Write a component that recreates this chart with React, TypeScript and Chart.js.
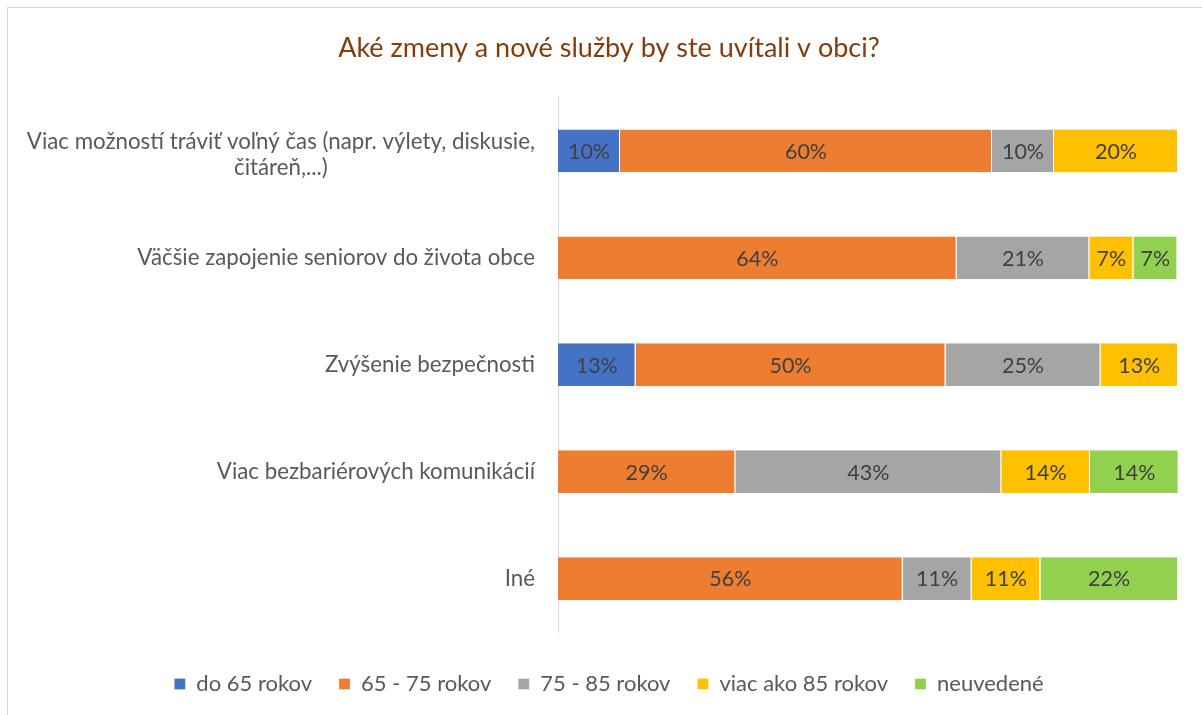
import React, { useEffect, useRef } from "react";
import { Chart, registerables } from "chart.js";

Chart.register(...registerables);

const title = "Aké zmeny a nové služby by ste uvítali v obci?";

const categories: string[][] = [
  ["Viac možností tráviť voľný čas (napr. výlety, diskusie,", "čitáreň,...)"],
  ["Väčšie zapojenie seniorov do života obce"],
  ["Zvýšenie bezpečnosti"],
  ["Viac bezbariérových komunikácií"],
  ["Iné"],
];

const seriesNames = ["do 65 rokov", "65 - 75 rokov", "75 - 85 rokov", "viac ako 85 rokov", "neuvedené"];
const seriesColors = ["#4472C4", "#ED7D31", "#A5A5A5", "#FFC000", "#92D050"];

const do65 = [10, 0, 12.5, 0, 0];
const r6575 = [60, 64.3, 50, 28.6, 55.6];
const r7585 = [10, 21.4, 25, 42.9, 11.1];
const over85 = [20, 7.1, 12.5, 14.3, 11.1];
const neuvedene = [0, 7.1, 0, 14.3, 22.2];

const seriesValues = [do65, r6575, r7585, over85, neuvedene];

const FONT = "Lato, 'Open Sans', sans-serif";

const dataLabelPlugin = {
  id: "dataLabels",
  afterDatasetsDraw(chart: any) {
    const ctx = chart.ctx;
    ctx.save();
    ctx.font = `21.5px ${FONT}`;
    ctx.fillStyle = "#404040";
    ctx.textAlign = "center";
    ctx.textBaseline = "middle";
    chart.data.datasets.forEach((ds: any, i: number) => {
      const meta = chart.getDatasetMeta(i);
      meta.data.forEach((el: any, j: number) => {
        const v = ds.data[j];
        if (!v) return;
        const p = el.getProps(["x", "y", "base"], true);
        ctx.fillText(Math.round(v) + "%", (p.x + p.base) / 2, p.y + 1);
      });
    });
    ctx.restore();
  },
};

const categoryLabelPlugin = {
  id: "categoryLabels",
  afterDraw(chart: any) {
    const ctx = chart.ctx;
    const yScale = chart.scales.y;
    const right = chart.chartArea.left - 23;
    const lh = 26;
    ctx.save();
    ctx.font = `22.3px ${FONT}`;
    ctx.fillStyle = "#595959";
    ctx.textAlign = "center";
    ctx.textBaseline = "middle";
    categories.forEach((lines, i) => {
      const yc = yScale.getPixelForTick(i);
      const maxW = Math.max(...lines.map((l) => ctx.measureText(l).width));
      const cx = right - maxW / 2;
      const n = lines.length;
      const offset = n > 1 ? 4 : 0;
      lines.forEach((l, k) => {
        ctx.fillText(l, cx, yc + offset + (k - (n - 1) / 2) * lh);
      });
    });
    ctx.restore();
  },
};

export default function App() {
  const ref = useRef<HTMLCanvasElement | null>(null);

  useEffect(() => {
    if (!ref.current) return;
    const chart = new Chart(ref.current, {
      type: "bar",
      data: {
        labels: categories.map((c) => c.join(" ")),
        datasets: seriesNames.map((name, i) => ({
          label: name,
          data: seriesValues[i],
          backgroundColor: seriesColors[i],
          borderColor: "#FFFFFF",
          borderWidth: { top: 0, bottom: 0, left: 0, right: 1 },
          borderSkipped: false,
          barPercentage: 0.4,
          categoryPercentage: 1,
        })),
      },
      options: {
        indexAxis: "y",
        animation: false,
        responsive: false,
        maintainAspectRatio: false,
        layout: { padding: { left: 40, right: 24, top: 22, bottom: 10 } },
        scales: {
          x: {
            stacked: true,
            min: 0,
            max: 100,
            display: true,
            grid: { display: false, drawTicks: false },
            border: { display: false },
            ticks: { display: false },
            afterFit: (scale: any) => {
              scale.height = 14;
            },
          },
          y: {
            stacked: true,
            grid: { display: false, drawTicks: false },
            border: { display: true, color: "#D9D9D9", width: 1 },
            ticks: { display: false },
            afterFit: (scale: any) => {
              scale.width = 518;
            },
          },
        },
        plugins: {
          title: {
            display: true,
            text: title,
            color: "#843C0C",
            font: { family: FONT, size: 27, weight: "normal" },
            padding: { top: 10, bottom: 33 },
          },
          legend: {
            position: "bottom",
            labels: {
              boxWidth: 11,
              boxHeight: 11,
              color: "#595959",
              font: { family: FONT, size: 22 },
              padding: 27,
            },
          },
          tooltip: { enabled: false },
        },
      },
      plugins: [dataLabelPlugin, categoryLabelPlugin],
    });
    return () => chart.destroy();
  }, []);

  return (
    <div style={{ position: "absolute", left: 0, top: 0, width: 1202, height: 715, background: "#fff" }}>
      <div
        style={{
          position: "absolute",
          left: 7,
          top: 7,
          right: 0,
          bottom: 0,
          borderLeft: "1px solid #D9D9D9",
          borderTop: "1px solid #D9D9D9",
        }}
      />
      <canvas ref={ref} width={1202} height={715} style={{ position: "absolute", left: 0, top: 0 }} />
    </div>
  );
}
